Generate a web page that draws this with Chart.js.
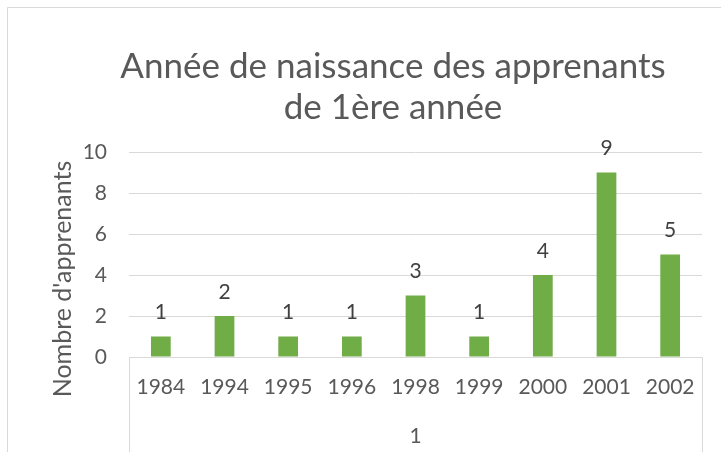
<!DOCTYPE html>
<html>
<head>
<meta charset="utf-8">
<script src="https://cdn.jsdelivr.net/npm/chart.js@4/dist/chart.umd.min.js"></script>
<style>
html,body{margin:0;padding:0;background:#fff;}
#wrap{width:721px;height:452px;position:relative;}
</style>
</head>
<body>
<div id="wrap"><canvas id="c" width="721" height="452"></canvas></div>
<script>
const titleLines = ['Année de naissance des apprenants', 'de 1ère année'];
const yAxisTitle = "Nombre d'apprenants";
const categories = ['1984','1994','1995','1996','1998','1999','2000','2001','2002'];
const values = [1, 2, 1, 1, 3, 1, 4, 9, 5];
const groupLabel = '1';
const yTickValues = [0, 2, 4, 6, 8, 10];

const FONT = 'Lato, "Liberation Sans", sans-serif';
const TEXT = '#595959';
const LINE = '#d9d9d9';

const decor = {
  id: 'decor',
  afterDraw(chart) {
    const ctx = chart.ctx;
    const a = chart.chartArea;
    ctx.save();
    // outer frame
    ctx.strokeStyle = LINE;
    ctx.lineWidth = 1;
    ctx.beginPath();
    ctx.moveTo(7.5, 452);
    ctx.lineTo(7.5, 7.5);
    ctx.lineTo(721, 7.5);
    ctx.stroke();
    // title
    ctx.fillStyle = TEXT;
    ctx.font = '35px ' + FONT;
    ctx.textAlign = 'center';
    ctx.textBaseline = 'middle';
    ctx.fillText(titleLines[0], 393, 67);
    ctx.fillText(titleLines[1], 393, 108);
    // y axis title
    ctx.save();
    ctx.translate(63, 279);
    ctx.rotate(-Math.PI / 2);
    ctx.font = '25px ' + FONT;
    ctx.fillText(yAxisTitle, 0, 0);
    ctx.restore();
    // category axis box
    const L = Math.round(a.left) + 0.5, R = Math.round(a.right) + 0.5, B = Math.round(a.bottom) + 0.5;
    ctx.strokeStyle = LINE;
    ctx.beginPath();
    ctx.moveTo(L, B); ctx.lineTo(R, B);
    ctx.moveTo(L, B); ctx.lineTo(L, 452);
    ctx.moveTo(R, B); ctx.lineTo(R, 452);
    ctx.stroke();
    // group label
    ctx.fillStyle = TEXT;
    ctx.font = '21px ' + FONT;
    ctx.fillText(groupLabel, (a.left + a.right) / 2, 436);
    // data labels
    ctx.fillStyle = '#404040';
    const meta = chart.getDatasetMeta(0);
    meta.data.forEach((bar, i) => {
      ctx.fillText(String(values[i]), bar.x, bar.y - 24);
    });
    ctx.restore();
  }
};

new Chart(document.getElementById('c'), {
  type: 'bar',
  data: {
    labels: categories,
    datasets: [{
      data: values,
      backgroundColor: '#70AD47',
      borderWidth: 0,
      barPercentage: 0.31,
      categoryPercentage: 1.0
    }]
  },
  options: {
    responsive: false,
    animation: false,
    devicePixelRatio: 1,
    layout: { padding: { top: 152, right: 19, left: 40, bottom: 0 } },
    plugins: {
      legend: { display: false },
      title: { display: false },
      tooltip: { enabled: false }
    },
    scales: {
      x: {
        grid: { display: false, drawTicks: false },
        border: { display: false },
        ticks: { color: TEXT, font: { family: FONT, size: 21 }, padding: 18, maxRotation: 0, autoSkip: false },
        afterFit(s) { s.height = 95; }
      },
      y: {
        min: 0, max: 10,
        afterBuildTicks(s) { s.ticks = yTickValues.map(v => ({ value: v })); },
        grid: { color: LINE, lineWidth: 1, drawTicks: false },
        border: { display: false },
        ticks: { color: TEXT, font: { family: FONT, size: 21 }, padding: 22 },
        afterFit(s) { s.width = 89; }
      }
    }
  },
  plugins: [decor]
});
</script>
</body>
</html>
